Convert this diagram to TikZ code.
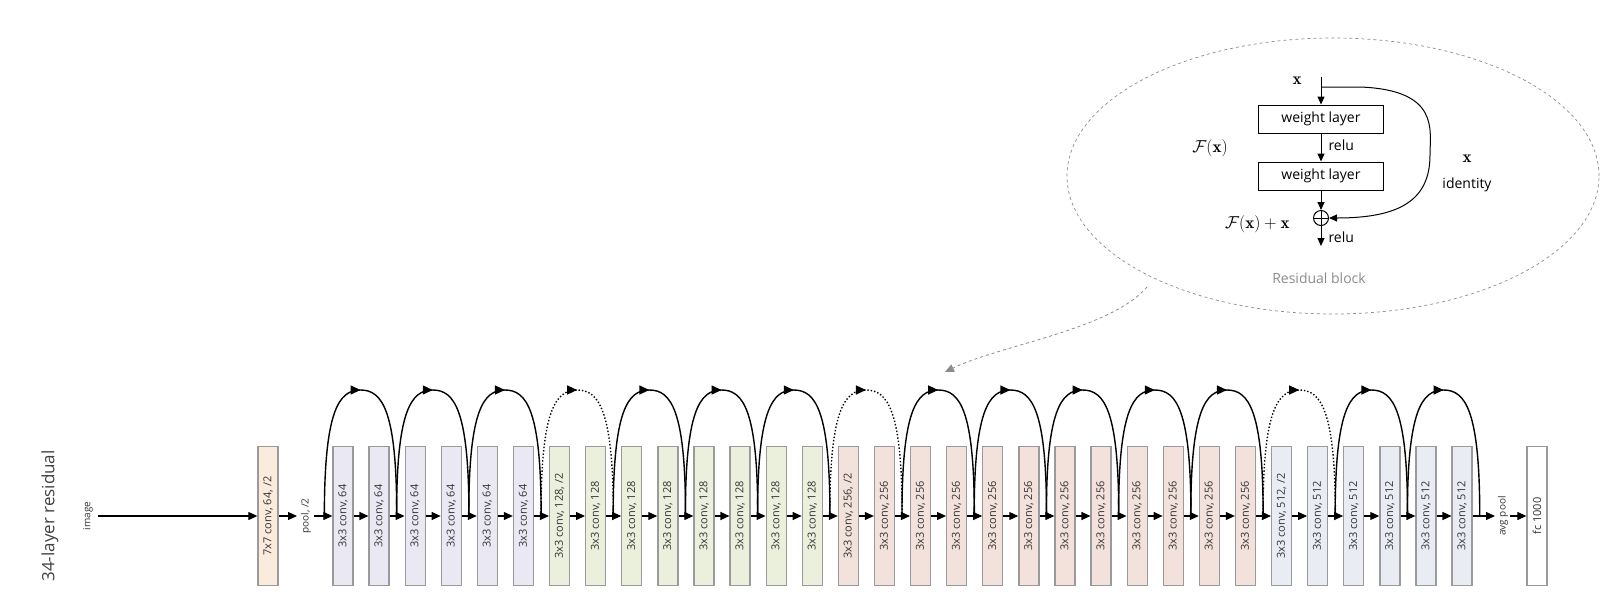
\documentclass[tikz,border=0pt]{standalone}
\usepackage{fontspec}
\setsansfont{Open Sans}
\usetikzlibrary{arrows.meta,decorations.markings,calc,shapes.geometric}
\definecolor{cA}{HTML}{FBEBDD}
\definecolor{cB}{HTML}{EAE8F2}
\definecolor{cC}{HTML}{EAF0DC}
\definecolor{cD}{HTML}{F3E1DB}
\definecolor{cE}{HTML}{E9ECF2}
\definecolor{bd}{HTML}{9A9A9A}
\begin{document}
\begin{tikzpicture}[x=1pt,y=-1pt,
  box/.style={draw=bd,line width=1.3pt,minimum width=139pt,minimum height=20pt,rotate=90,inner sep=0pt,font=\sffamily\fontsize{11}{12}\selectfont,text=black!80},
  arr/.style={-{Triangle[length=9pt,width=8pt]},line width=1.1pt},
  sarr/.style={-{Triangle[length=8pt,width=7pt]},line width=1pt},
  skip/.style={line width=1.4pt,postaction={decorate},decoration={markings,mark=at position 0.5 with {\arrow{Triangle[length=10pt,width=9pt]}}}},
  lab/.style={rotate=90,font=\sffamily\fontsize{10}{12}\selectfont,text=black!80}]
\useasboundingbox (0,0) rectangle (1618,598);
\def\ly{516}
% boxes
\node[box,fill=cA] (s7) at (268,\ly) {7x7 conv, 64, /2};
\node[box,fill=white] (fc) at (1537,\ly) {fc 1000};
\foreach \i in {0,...,31}{
  \pgfmathsetmacro{\cx}{343+36.1*\i}
  \ifnum\i<6 \def\col{cB}\def\txt{3x3 conv, 64}\else
  \ifnum\i<14 \def\col{cC}\def\txt{3x3 conv, 128}\else
  \ifnum\i<26 \def\col{cD}\def\txt{3x3 conv, 256}\else
  \def\col{cE}\def\txt{3x3 conv, 512}\fi\fi\fi
  \ifnum\i=6 \def\txt{3x3 conv, 128, /2}\fi
  \ifnum\i=14 \def\txt{3x3 conv, 256, /2}\fi
  \ifnum\i=26 \def\txt{3x3 conv, 512, /2}\fi
  \node[box,fill=\col] (b\i) at (\cx,\ly) {\txt};
}
% labels
\node[lab] (img) at (88,\ly) {image};
\node[lab] (pool) at (306,\ly) {pool, /2};
\node[lab] (avg) at (1503,\ly) {avg pool};
\node[rotate=90,font=\sffamily\fontsize{17}{20}\selectfont,text=black!75] (title) at (50,\ly) {34-layer residual};
% main arrows
\coordinate (i0) at (98,\ly);
\draw[arr] (i0) -- (s7.north);
\coordinate (p1) at (297,\ly);
\coordinate (p2) at (314,\ly);
\draw[arr] (s7.south) -- (p1);
\draw[arr] (p2) -- (b0.north);
\foreach \i [evaluate=\i as \j using int(\i+1)] in {0,...,30}{
  \draw[arr] (b\i.south) -- (b\j.north);
}
\coordinate (a1) at (1495,\ly);
\coordinate (a2) at (1510,\ly);
\draw[arr] (b31.south) -- (a1);
\draw[arr] (a2) -- (fc.north);
% skip connections
\foreach \k in {0,...,15}{
  \pgfmathtruncatemacro{\p}{2*\k}
  \pgfmathtruncatemacro{\q}{2*\k+1}
  \ifnum\k=3 \def\sty{dotted}\else\ifnum\k=7 \def\sty{dotted}\else\ifnum\k=13 \def\sty{dotted}\else\def\sty{solid}\fi\fi\fi
  \coordinate (ss\k) at ($(b\p.north)+(-8,0)$);
  \coordinate (se\k) at ($(b\q.south)+(7,0)$);
  \coordinate (sm\k) at ($(ss\k)!0.5!(se\k)+(0,-126)$);
  \draw[skip,\sty] (ss\k) .. controls ($(ss\k)+(0,-105)$) and ($(sm\k)+(-22,0)$) .. (sm\k)
     .. controls ($(sm\k)+(22,0)$) and ($(se\k)+(0,-105)$) .. (se\k);
}
% callout ellipse
\node[ellipse,draw=black!45,dashed,line width=0.7pt,minimum width=532pt,minimum height=276pt] (ell) at (1333,176) {};
\coordinate (c1) at (1147,287);
\coordinate (c2) at (945,372);
\draw[black!45,dashed,line width=0.8pt,-{Triangle[length=9pt,width=8pt]}] (c1) .. controls (1110,330) and (1000,345) .. (c2);
% residual block
\begin{scope}[font=\sffamily\fontsize{14}{16}\selectfont]
\node[draw,line width=1pt,minimum width=125pt,minimum height=28pt,inner sep=0pt] (w1) at (1321,119) {weight layer};
\node[draw,line width=1pt,minimum width=125pt,minimum height=28pt,inner sep=0pt] (w2) at (1321,176) {weight layer};
\node[draw,circle,line width=1pt,minimum size=15pt,inner sep=0pt] (plus) at (1321,218) {};
\draw[line width=1pt] (plus.north) -- (plus.south) (plus.west) -- (plus.east);
\coordinate (xin) at (1321,77);
\coordinate (xout) at (1321,246);
\draw[sarr] (xin) -- (w1.north);
\draw[sarr] (w1.south) -- (w2.north);
\draw[sarr] (w2.south) -- (plus.north);
\draw[sarr] (plus.south) -- (xout);
\coordinate (xr) at (1321,87);
\draw[sarr] (xr) -- (1360,87) .. controls (1440,90) and (1430,130) .. (1430,155) .. controls (1430,200) and (1400,218) .. (plus.east);
\node[anchor=west] (r1) at (1325,145) {relu};
\node[anchor=west] (r2) at (1325,237) {relu};
\node (xl) at (1297,81) {\fontsize{17}{19}\selectfont$\mathbf{x}$};
\node (xid) at (1467,159) {\fontsize{17}{19}\selectfont$\mathbf{x}$};
\node (idl) at (1467,185) {identity};
\node (fx) at (1210,148) {\fontsize{17}{19}\selectfont$\mathcal{F}(\mathbf{x})$};
\node[anchor=east] (fxx) at (1293,224) {\fontsize{17}{19}\selectfont$\mathcal{F}(\mathbf{x})+\mathbf{x}$};
\node[text=black!45] (rb) at (1319,278) {Residual block};
\end{scope}
\end{tikzpicture}
\end{document}
